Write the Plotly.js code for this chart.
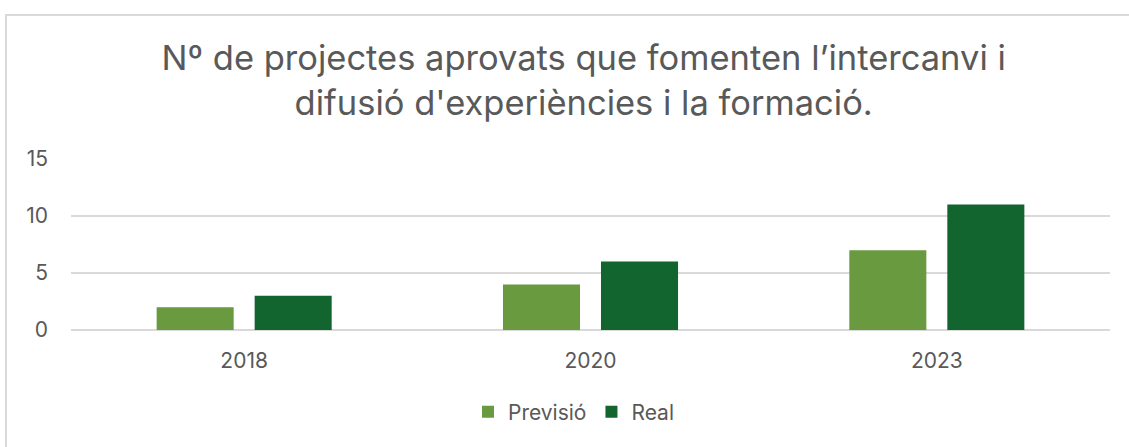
<!DOCTYPE html>
<html>
<head>
<meta charset="utf-8">
<script src="https://cdn.plot.ly/plotly-3.0.1.min.js"></script>
<style>
html,body{margin:0;padding:0;background:#fff;}
#chart{width:1129px;height:447px;}
</style>
</head>
<body>
<div id="chart"></div>
<script>
const years = ['2018', '2020', '2023'];
const previsio = [2, 4, 7];
const real = [3, 6, 11];
const seriesNames = ['Previsió', 'Real'];
const titleText = 'Nº de projectes aprovats que fomenten l’intercanvi i<br>difusió d\'experiències i la formació.';
const yTicks = [0, 5, 10, 15];

const fontFam = 'Inter, "Open Sans", Roboto, sans-serif';
const grey = '#595959';

const traces = [
  {type:'bar', name:seriesNames[0], x:years, y:previsio, marker:{color:'#6a9a3f'}, hoverinfo:'x+y'},
  {type:'bar', name:seriesNames[1], x:years, y:real, marker:{color:'#136530'}, hoverinfo:'x+y'}
];

// plot area in px: x 71..1110, y 159..330
const L=71, R=1110, T=159, B=330;
const px = v => (v - L) / (R - L);
const py = v => (B - v) / (B - T);

const layout = {
  width:1129, height:447,
  margin:{l:L, r:1129-R, t:T, b:447-B, pad:0},
  paper_bgcolor:'#ffffff', plot_bgcolor:'#ffffff',
  font:{family:fontFam, color:grey, size:21},
  title:{text:titleText, font:{family:fontFam, size:34.5, color:grey}, x:0.517, xanchor:'center', y:1-70/447, yanchor:'middle', yref:'container'},
  barmode:'group', bargap:0.434, bargroupgap:0.214,
  xaxis:{type:'category', showgrid:false, zeroline:false, showline:false, ticks:'', ticklabelstandoff:16, tickfont:{size:21, color:grey}},
  yaxis:{range:[0,15], tickvals:yTicks, showgrid:true, gridcolor:'#d9d9d9', gridwidth:1.5, zeroline:true, zerolinecolor:'#d9d9d9', zerolinewidth:1.5, showline:false, ticks:'', ticklabelstandoff:22, tickfont:{size:21, color:grey}},
  showlegend:true,
  legend:{orientation:'h', x:0.5 - 17/1039, xanchor:'center', y:py(412), yanchor:'middle', font:{size:21, color:grey}, itemwidth:30, traceorder:'normal', itemsizing:'constant'},
  shapes:[{type:'rect', xref:'paper', yref:'paper', x0:px(6), x1:px(1140), y0:py(460), y1:py(15), line:{color:'#d9d9d9', width:2}, fillcolor:'rgba(0,0,0,0)', layer:'below'}]
};

Plotly.newPlot('chart', traces, layout, {displayModeBar:false, staticPlot:true});
</script>
</body>
</html>
